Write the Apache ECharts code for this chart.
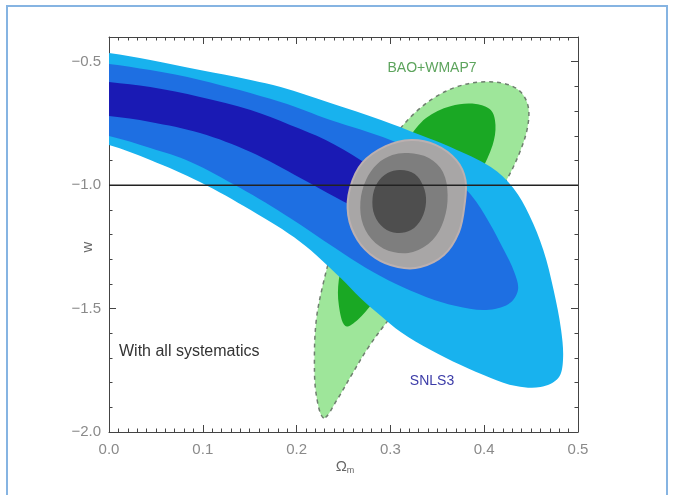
<!DOCTYPE html>
<html>
<head>
<meta charset="utf-8">
<script src="https://cdn.jsdelivr.net/npm/echarts@6/dist/echarts.min.js"></script>
<style>
  html, body { margin: 0; padding: 0; background: #fff; }
  #chart { width: 675px; height: 495px; }
</style>
</head>
<body>
<div id="chart"></div>
<script>
// Confidence contours in the (Omega_m, w) plane. Each contour is a closed
// outline of [Omega_m, w] vertices.

// SNLS3 (blue), outer to inner
const snlsOuter = [
  [-0.03, -0.455], [0.000, -0.465], [0.044, -0.493], [0.097, -0.534], [0.151, -0.574],
  [0.183, -0.603], [0.236, -0.667], [0.290, -0.736], [0.332, -0.797], [0.364, -0.846],
  [0.407, -0.927], [0.431, -1.012], [0.448, -1.121], [0.463, -1.263], [0.474, -1.425],
  [0.482, -1.587], [0.484, -1.708], [0.479, -1.781], [0.460, -1.818], [0.434, -1.814],
  [0.407, -1.781], [0.375, -1.729], [0.343, -1.668], [0.311, -1.595], [0.290, -1.530],
  [0.268, -1.457], [0.247, -1.376], [0.204, -1.230], [0.151, -1.101], [0.097, -0.987],
  [0.044, -0.898], [0.000, -0.837], [-0.03, -0.820]
];
const snlsMiddle = [
  [-0.03, -0.500], [0.000, -0.509], [0.044, -0.534], [0.097, -0.574], [0.183, -0.663],
  [0.236, -0.736], [0.300, -0.817], [0.354, -0.918], [0.386, -1.040], [0.405, -1.149],
  [0.421, -1.263], [0.432, -1.352], [0.436, -1.425], [0.426, -1.482], [0.402, -1.506],
  [0.370, -1.490], [0.338, -1.453], [0.306, -1.401], [0.274, -1.336], [0.241, -1.255],
  [0.193, -1.133], [0.140, -1.012], [0.087, -0.906], [0.044, -0.850], [0.000, -0.801],
  [-0.03, -0.785]
];
const snlsInner = [
  [-0.03, -0.570], [0.000, -0.582], [0.044, -0.603], [0.097, -0.643], [0.151, -0.696],
  [0.193, -0.756], [0.231, -0.817], [0.268, -0.898], [0.306, -1.000], [0.338, -1.109],
  [0.345, -1.174], [0.332, -1.202], [0.306, -1.174], [0.274, -1.113], [0.241, -1.048],
  [0.204, -0.971], [0.151, -0.866], [0.097, -0.789], [0.044, -0.744], [0.000, -0.720],
  [-0.03, -0.710]
];

// BAO+WMAP7 (green), outer and inner
const baoOuter = [
  [0.229, -1.943], [0.221, -1.850], [0.219, -1.708], [0.221, -1.546], [0.228, -1.405],
  [0.238, -1.263], [0.252, -1.121], [0.270, -0.979], [0.292, -0.858], [0.309, -0.777],
  [0.327, -0.704], [0.348, -0.643], [0.370, -0.603], [0.396, -0.582], [0.423, -0.590],
  [0.439, -0.623], [0.447, -0.684], [0.446, -0.769], [0.438, -0.866], [0.425, -0.971],
  [0.407, -1.080], [0.384, -1.190], [0.354, -1.311], [0.324, -1.433], [0.298, -1.546],
  [0.276, -1.660], [0.258, -1.773], [0.243, -1.870]
];
const baoInner = [
  [0.252, -1.571], [0.245, -1.486], [0.245, -1.384], [0.252, -1.283], [0.264, -1.162],
  [0.281, -1.032], [0.300, -0.918], [0.318, -0.817], [0.338, -0.728], [0.364, -0.680],
  [0.391, -0.671], [0.407, -0.696], [0.412, -0.756], [0.409, -0.837], [0.396, -0.947],
  [0.377, -1.060], [0.354, -1.174], [0.327, -1.287], [0.302, -1.392], [0.281, -1.478],
  [0.265, -1.546]
];

// Combined constraint (grey), outer to inner
const combOuter = [
  [0.322, -0.817], [0.348, -0.837], [0.370, -0.898], [0.380, -0.979], [0.379, -1.081],
  [0.373, -1.190], [0.357, -1.283], [0.332, -1.332], [0.308, -1.332], [0.284, -1.295],
  [0.265, -1.222], [0.255, -1.121], [0.257, -1.012], [0.270, -0.910], [0.295, -0.842]
];
const combMiddle = [
  [0.319, -0.870], [0.341, -0.890], [0.356, -0.947], [0.361, -1.040], [0.357, -1.141],
  [0.345, -1.222], [0.324, -1.271], [0.303, -1.271], [0.284, -1.234], [0.271, -1.162],
  [0.268, -1.068], [0.274, -0.979], [0.286, -0.914], [0.302, -0.878]
];
const combInner = [
  [0.311, -0.939], [0.326, -0.955], [0.335, -1.004], [0.338, -1.068], [0.333, -1.137],
  [0.322, -1.182], [0.307, -1.194], [0.293, -1.174], [0.283, -1.121], [0.281, -1.052],
  [0.286, -0.991], [0.297, -0.951]
];

// Cosmological-constant reference line
const wLambda = -1.0;
const omRange = [0.0, 0.5];
const wRange = [-2.0, -0.4];

const FONT = 'Liberation Sans, Arial, Helvetica, sans-serif';

function contour(name, pts, fill, extra) {
  return {
    type: 'custom',
    name: name,
    coordinateSystem: 'cartesian2d',
    clip: true,
    silent: true,
    data: [pts[0]],
    renderItem: function (params, api) {
      const points = pts.map(function (p) { return api.coord(p); });
      const style = Object.assign({ fill: fill }, extra || {});
      return { type: 'polygon', shape: { points: points, smooth: 0.35 }, style: style };
    }
  };
}

function fmtTick(v) {
  const s = Math.abs(v).toFixed(1);
  return v < 0 ? '\u2212' + s : s;
}

const axisLineStyle = { color: '#444', width: 1 };

function xAxisCfg(pos, showLabel) {
  return {
    type: 'value', position: pos, min: omRange[0], max: omRange[1], interval: 0.1,
    axisLine: { show: true, onZero: false, lineStyle: axisLineStyle },
    axisTick: { show: true, inside: true, length: 7, lineStyle: axisLineStyle },
    minorTick: { show: true, splitNumber: 10, length: 3.5, lineStyle: axisLineStyle },
    splitLine: { show: false },
    axisLabel: { show: showLabel, formatter: fmtTick, color: '#8a8a8a', fontSize: 15, margin: 10, fontFamily: FONT }
  };
}
function yAxisCfg(pos, showLabel) {
  return {
    type: 'value', position: pos, min: wRange[0], max: wRange[1], interval: 0.5,
    axisLine: { show: true, onZero: false, lineStyle: axisLineStyle },
    axisTick: { show: true, inside: true, length: 7, lineStyle: axisLineStyle },
    minorTick: { show: true, splitNumber: 5, length: 3.5, lineStyle: axisLineStyle },
    splitLine: { show: false },
    axisLabel: { show: showLabel, showMaxLabel: false, formatter: fmtTick, color: '#8a8a8a', fontSize: 15, margin: 8, fontFamily: FONT }
  };
}

const chart = echarts.init(document.getElementById('chart'), null, { renderer: 'canvas' });

chart.setOption({
  animation: false,
  backgroundColor: '#ffffff',
  grid: { left: 109, right: 97, top: 37, bottom: 63, containLabel: false },
  xAxis: [xAxisCfg('bottom', true), xAxisCfg('top', false)],
  yAxis: [yAxisCfg('left', true), yAxisCfg('right', false)],
  series: [
    contour('BAO+WMAP7 95%', baoOuter, '#9ee69a', { stroke: '#6f7f6f', lineWidth: 1.5, lineDash: [4, 4] }),
    contour('BAO+WMAP7 68%', baoInner, '#1aa824'),
    contour('SNLS3 99%', snlsOuter, '#18b2ee'),
    contour('SNLS3 95%', snlsMiddle, '#1e6fe2'),
    contour('SNLS3 68%', snlsInner, '#1a1ab4'),
    contour('Combined 99%', combOuter, '#a8a6a6', { stroke: '#bcb0b0', lineWidth: 2 }),
    contour('Combined 95%', combMiddle, '#7e7e7e'),
    contour('Combined 68%', combInner, '#4e4e4e'),
    {
      type: 'line', name: 'w = -1', silent: true, symbol: 'none',
      data: [[omRange[0], wLambda], [omRange[1], wLambda]],
      lineStyle: { color: '#222', width: 1.5 }, z: 5
    }
  ],
  graphic: [
    {
      type: 'rect', silent: true, z: -1,
      shape: { x: 7, y: 6, width: 660, height: 500 },
      style: { fill: 'none', stroke: '#86b4e2', lineWidth: 2 }
    },
    {
      type: 'text', x: 88, y: 247, rotation: Math.PI / 2, silent: true,
      style: { text: 'w', fill: '#666', fontSize: 15, fontFamily: FONT, textAlign: 'center', textVerticalAlign: 'middle' }
    },
    {
      type: 'text', x: 345, y: 467, silent: true,
      style: {
        text: '{a|\u03A9}{b|m}', fill: '#666', fontFamily: FONT, textAlign: 'center', textVerticalAlign: 'middle',
        rich: { a: { fontSize: 15, fill: '#666', fontFamily: FONT }, b: { fontSize: 9, fill: '#666', padding: [8, 0, 0, 0], fontFamily: FONT } }
      }
    },
    {
      type: 'text', x: 432, y: 68, silent: true,
      style: { text: 'BAO+WMAP7', fill: '#5da45d', fontSize: 14, fontFamily: FONT, textAlign: 'center', textVerticalAlign: 'middle' }
    },
    {
      type: 'text', x: 432, y: 381, silent: true,
      style: { text: 'SNLS3', fill: '#3c3ca8', fontSize: 14, fontFamily: FONT, textAlign: 'center', textVerticalAlign: 'middle' }
    },
    {
      type: 'text', x: 119, y: 352, silent: true,
      style: { text: 'With all systematics', fill: '#333', fontSize: 16, fontFamily: FONT, textAlign: 'left', textVerticalAlign: 'middle' }
    }
  ]
});
</script>
</body>
</html>
